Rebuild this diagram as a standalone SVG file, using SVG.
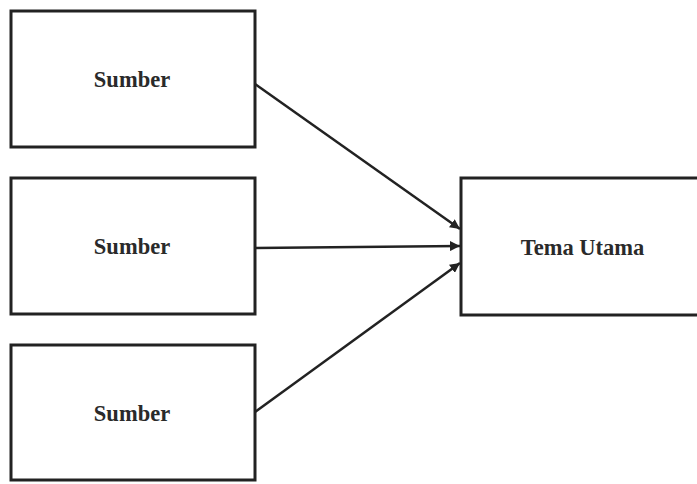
<svg xmlns="http://www.w3.org/2000/svg" width="697" height="484" viewBox="0 0 697 484">
<defs>
<style>
.box{fill:#fff;stroke:#222;stroke-width:3}
.lbl{font-family:"Liberation Serif",serif;font-weight:bold;font-size:22.5px;fill:#2a2a2a;text-anchor:middle}
.con{stroke:#222;stroke-width:2.5;fill:none}
</style>
<marker id="ah" viewBox="0 0 10 10" refX="10" refY="5" markerWidth="4" markerHeight="4" orient="auto" markerUnits="strokeWidth">
<path d="M0,0 L10,5 L0,10 z" fill="#222"/>
</marker>
</defs>
<rect width="697" height="484" fill="#fff"/>
<g id="sumber1"><rect class="box" x="11" y="11" width="244" height="136"/><text class="lbl" x="132" y="87">Sumber</text></g>
<g id="sumber2"><rect class="box" x="11" y="178" width="244" height="136"/><text class="lbl" x="132" y="254">Sumber</text></g>
<g id="sumber3"><rect class="box" x="11" y="345" width="244" height="135"/><text class="lbl" x="132" y="421">Sumber</text></g>
<g id="tema"><rect class="box" x="461" y="178" width="240" height="137"/><text class="lbl" x="582.5" y="255">Tema Utama</text></g>
<g id="connectors">
<line class="con" x1="255" y1="84" x2="460" y2="229" marker-end="url(#ah)"/>
<line class="con" x1="255" y1="248" x2="460" y2="246" marker-end="url(#ah)"/>
<line class="con" x1="255" y1="412" x2="460" y2="263" marker-end="url(#ah)"/>
</g>
</svg>
